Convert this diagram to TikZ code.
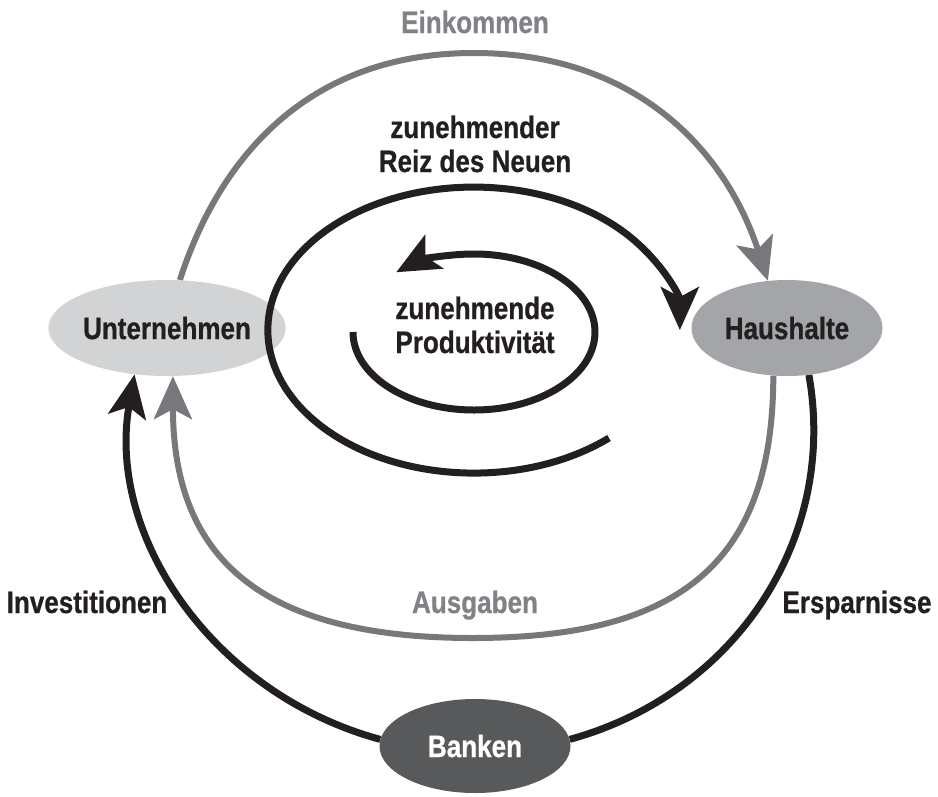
\documentclass[tikz,border=0pt]{standalone}
\usepackage{fontspec}
\setmainfont{Liberation Sans}[FakeStretch=0.84, BoldFeatures={FakeBold=0.7}]
\usetikzlibrary{arrows.meta,shapes.geometric,backgrounds}

\definecolor{ink}{HTML}{231F20}
\definecolor{flowgray}{HTML}{77787B}
\definecolor{labelgray}{HTML}{808285}
\definecolor{firmfill}{HTML}{D1D3D4}
\definecolor{homefill}{HTML}{A3A5A8}
\definecolor{bankfill}{HTML}{58595B}

\begin{document}
\begin{tikzpicture}[x=1pt,y=-1pt,
  lbl/.style={font=\fontsize{31}{34}\selectfont\bfseries, text=ink, inner sep=0pt},
  agent/.style={ellipse, minimum width=191pt, minimum height=96pt, inner sep=0pt, lbl},
  headtip/.style={-{Stealth[length=43pt,width=38pt,inset=10pt]}},
  blackflow/.style={draw=ink, line width=7pt},
  grayflow/.style={draw=flowgray, line width=6pt},
  loopflow/.style={draw=ink, line width=7pt}
]
\useasboundingbox (0,0) rectangle (938,796);

% sectors of the economy
\node[agent, fill=firmfill] (un) at (167,328) {Unternehmen};
\node[agent, fill=homefill] (hh) at (787,328) {Haushalte};
\node[agent, fill=bankfill, text=white, minimum height=94pt] (bk) at (475,746) {Banken};

% flow labels
\node[lbl, text=labelgray, anchor=base] (einkommen) at (475,33) {Einkommen};
\node[lbl, text=labelgray, anchor=base] (ausgaben) at (475,613) {Ausgaben};
\node[lbl, anchor=base] (invest) at (87,613) {Investitionen};
\node[lbl, anchor=base] (sparen) at (857,613) {Ersparnisse};
\node[lbl, align=center, anchor=base] (reiz) at (475,172) {zunehmender\\Reiz des Neuen};
\node[lbl, align=center, anchor=base] (prod) at (475,353) {zunehmende\\Produktivität};

% helper points on the flows
\coordinate (topmid) at (474,53);
\coordinate (botmid) at (473,638);
\coordinate (innerstart) at (353,332);
\coordinate (outerstart) at (609,438);

\begin{scope}[on background layer]
  % income: firms -> households
  \draw[grayflow, headtip] (un.75) .. controls (220,156) and (309,53) .. (topmid)
        .. controls (639,53) and (727,154) .. (hh.112);
  % spending: households -> firms
  \draw[grayflow, headtip] (hh.-106) .. controls (773,560) and (683,638) .. (botmid)
        .. controls (263,638) and (173,560) .. (un.-83);
  % savings: households -> banks
  \draw[blackflow] (hh.-65) .. controls (838,539) and (735,694) .. (bk.4);
  % investment: banks -> firms
  \draw[blackflow, headtip] (bk.176) .. controls (213,694) and (106,536) .. (un.-125);
\end{scope}

% inner loop (productivity), counter-clockwise
\draw[loopflow, headtip] (innerstart)
  arc[start angle=-180, end angle=-490, x radius=121, y radius=78];
% outer loop (novelty), clockwise
\draw[loopflow, headtip] (outerstart)
  arc[start angle=49, end angle=360, x radius=206, y radius=143];
\end{tikzpicture}
\end{document}
